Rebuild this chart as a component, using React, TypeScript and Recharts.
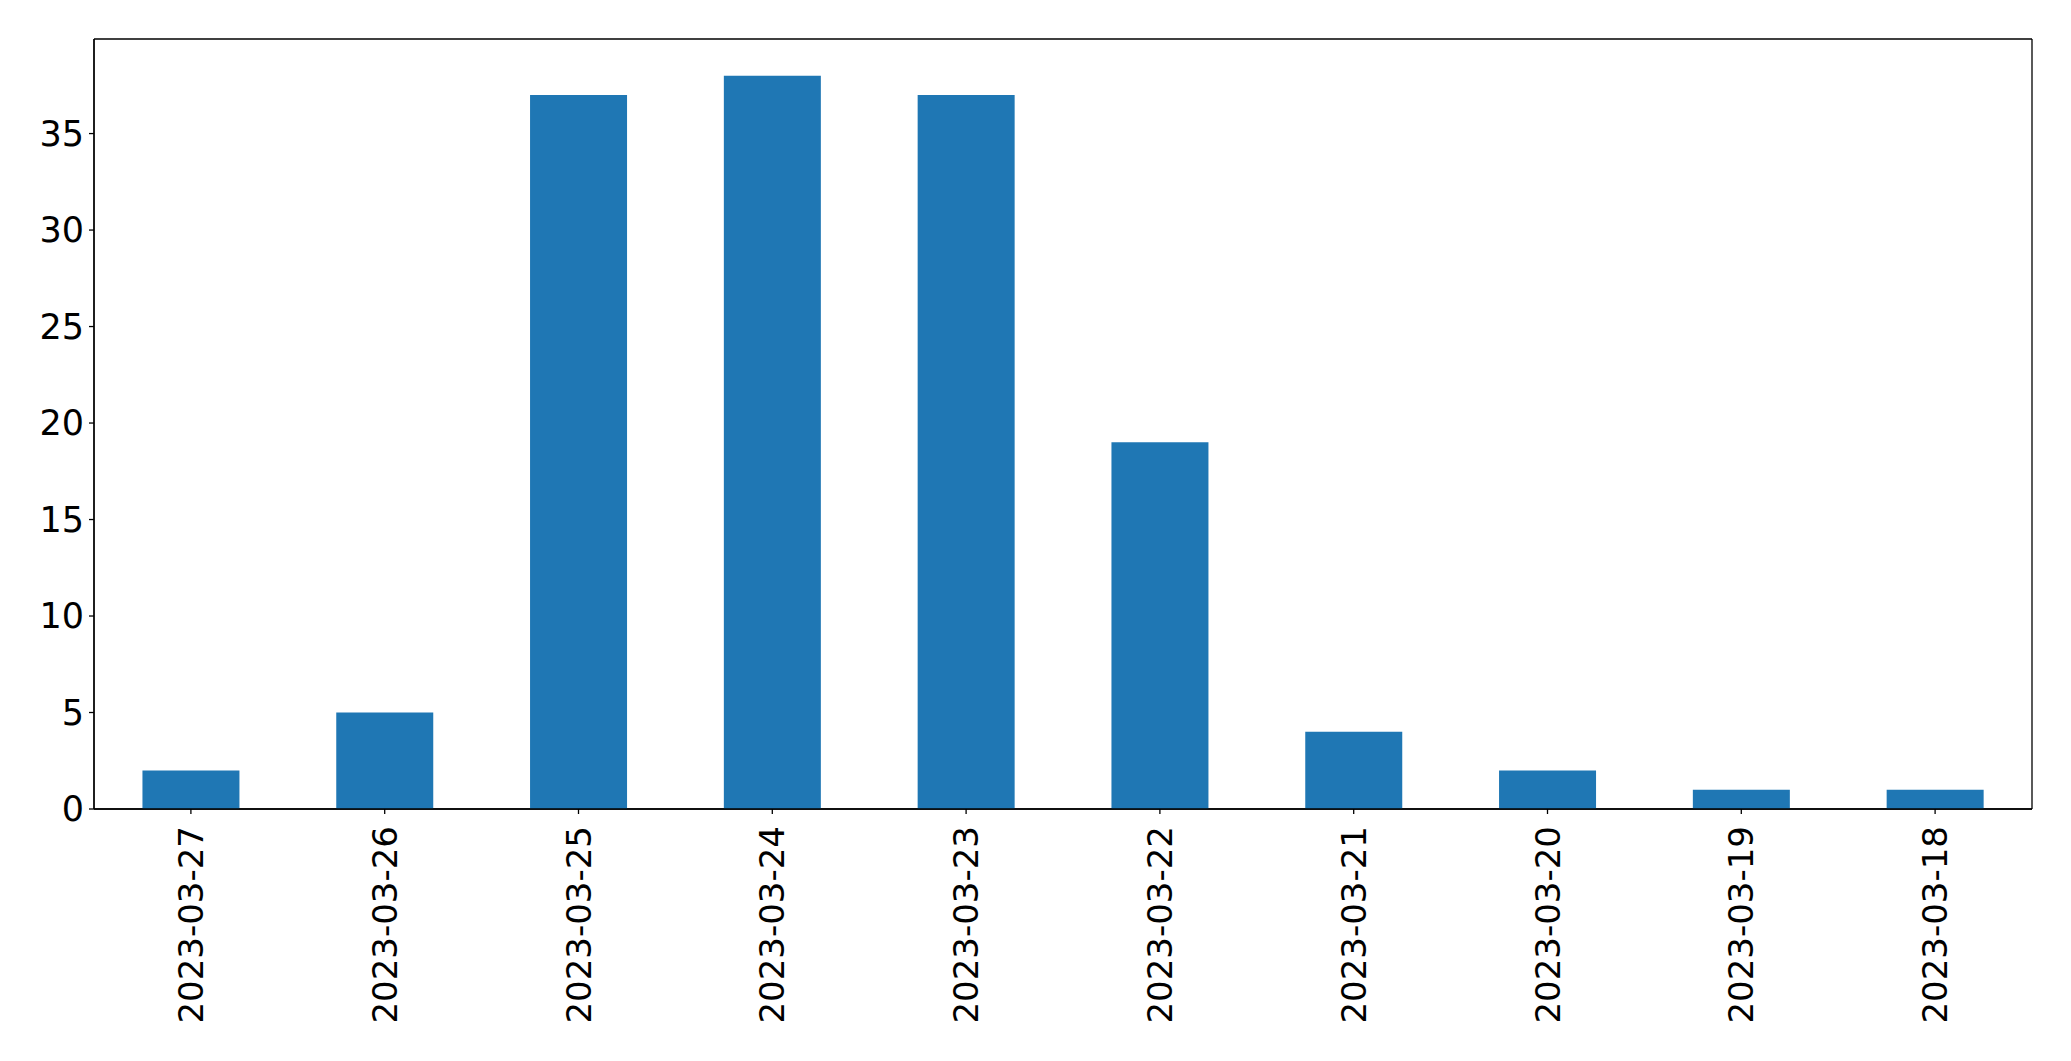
import { BarChart, Bar, XAxis, YAxis, CartesianGrid } from "recharts";

const dates = [
  "2023-03-27",
  "2023-03-26",
  "2023-03-25",
  "2023-03-24",
  "2023-03-23",
  "2023-03-22",
  "2023-03-21",
  "2023-03-20",
  "2023-03-19",
  "2023-03-18",
];
const counts = [2, 5, 37, 38, 37, 19, 4, 2, 1, 1];
const yTicks = [0, 5, 10, 15, 20, 25, 30, 35];

const data = dates.map((d, i) => ({ date: d, count: counts[i] }));

const FONT = "DejaVu Sans";
const FS = 35;

function DateTick(props: any) {
  const { x, y, payload } = props;
  return (
    <g transform={`translate(${x},${y + 10}) rotate(-90)`}>
      <text
        x={0}
        y={0}
        textAnchor="end"
        dominantBaseline="central"
        fontFamily={FONT}
        fontSize={34}
        fill="#000"
      >
        {payload.value}
      </text>
    </g>
  );
}

// frame lines at the plot edges (matplotlib style box)
const frameH = (p: any) => [p.offset.top, p.offset.top + p.offset.height];
const frameV = (p: any) => [p.offset.left, p.offset.left + p.offset.width];

export default function App() {
  return (
    <div style={{ position: "absolute", left: 0, top: 0, background: "#fff" }}>
      <BarChart
        width={2071}
        height={1061}
        data={data}
        margin={{ top: 39, right: 39, bottom: 0, left: 0 }}
        barCategoryGap="25%"
      >
        <CartesianGrid
          stroke="#000"
          strokeWidth={1.3}
          horizontalCoordinatesGenerator={frameH}
          verticalCoordinatesGenerator={frameV}
        />
        <XAxis
          dataKey="date"
          interval={0}
          height={252}
          tick={<DateTick />}
          tickLine={{ stroke: "#000", strokeWidth: 1.3 }}
          tickSize={5}
          axisLine={{ stroke: "#000", strokeWidth: 1.3 }}
        />
        <YAxis
          domain={[0, 39.9]}
          ticks={yTicks}
          width={94}
          tickSize={5}
          tickMargin={5}
          tick={{ fontFamily: FONT, fontSize: FS, fill: "#000" }}
          tickLine={{ stroke: "#000", strokeWidth: 1.3 }}
          axisLine={{ stroke: "#000", strokeWidth: 1.3 }}
        />
        <Bar dataKey="count" fill="#1f77b4" isAnimationActive={false} />
      </BarChart>
    </div>
  );
}
